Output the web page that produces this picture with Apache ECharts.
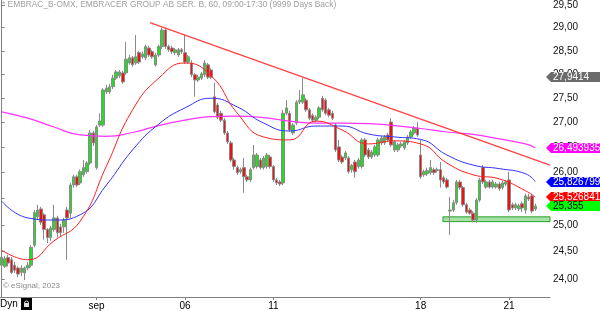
<!DOCTYPE html>
<html><head><meta charset="utf-8">
<script src="https://cdn.jsdelivr.net/npm/echarts@6/dist/echarts.min.js"></script>
<style>html,body{margin:0;padding:0;background:#fff}#c{width:600px;height:311px}</style>
</head><body><div id="c"></div>
<script>
// OHLC candles [open, close, low, high], hourly bars (9 per day)
const candles = [
[24.25,24.39,24.20,24.44],[24.23,24.37,24.20,24.42],[24.39,24.29,24.23,24.44],[24.35,24.12,24.09,24.40],
[24.25,24.16,24.11,24.31],[24.20,24.09,24.03,24.23],[24.12,24.20,24.05,24.25],[24.11,24.20,23.98,24.23],
[24.20,24.25,24.16,24.31],[24.25,24.58,24.21,24.62],[24.62,25.23,24.58,25.28],[25.15,25.28,25.09,25.38],
[25.30,25.05,25.00,25.34],[25.19,24.91,24.72,25.22],[24.91,24.76,24.66,24.94],[24.76,24.94,24.70,24.98],
[24.91,25.13,24.87,25.38],[25.13,24.85,24.76,25.17],[24.96,24.85,24.79,25.02],[24.96,25.09,24.85,25.13],
[25.28,25.13,24.35,25.34],[25.22,25.76,25.13,25.80],[25.76,25.92,25.71,25.96],[25.92,25.76,25.72,25.96],
[25.80,26.02,25.76,26.06],[25.96,26.10,25.92,26.25],[26.02,26.19,25.98,26.23],[26.19,26.79,26.15,26.85],
[26.79,26.59,26.53,26.83],[26.10,26.91,26.06,26.95],[26.95,27.03,26.91,27.19],[26.95,27.67,26.91,27.71],
[27.63,27.71,27.59,27.78],[27.63,27.74,27.59,27.80],[27.74,27.92,27.69,27.99],[27.92,28.05,27.88,28.09],
[27.97,28.05,27.92,28.09],[28.03,27.84,27.80,28.07],[28.03,28.32,27.99,28.69],[28.24,28.35,28.20,28.41],
[28.35,28.20,28.16,28.39],[28.24,28.37,28.20,28.84],[28.46,28.26,28.22,28.50],[28.37,28.43,28.33,28.48],
[28.35,28.59,28.30,28.63],[28.56,28.41,28.37,28.61],[28.48,28.37,28.33,28.52],[28.20,28.41,28.16,28.46],
[28.41,28.59,28.37,28.63],[28.59,28.95,28.54,29.00],[28.95,28.59,28.54,29.00],[28.59,28.52,28.48,28.63],
[28.56,28.48,28.43,28.61],[28.46,28.52,28.41,28.56],[28.41,28.52,28.37,28.56],[28.52,28.48,28.43,28.56],
[28.46,28.26,28.22,28.84],[28.26,28.37,28.22,28.41],[28.24,27.99,27.94,28.30],[27.99,27.88,27.53,28.03],
[27.88,27.94,27.84,27.99],[27.92,28.01,27.88,28.05],[27.99,28.24,27.94,28.30],[28.20,27.94,27.90,28.24],
[28.09,27.94,27.90,28.13],[27.53,27.22,27.19,27.82],[27.36,27.11,27.07,27.40],[27.19,27.05,27.01,27.24],
[27.05,26.79,26.75,27.09],[26.79,26.61,26.57,26.83],[26.59,26.25,26.21,26.63],[26.25,26.12,26.06,26.29],
[26.10,26.00,25.96,26.14],[26.02,26.06,25.98,26.10],[26.10,25.92,25.61,26.29],[25.92,25.86,25.82,25.96],
[25.86,26.06,25.82,26.10],[26.10,26.35,26.06,26.55],[26.12,26.35,26.08,26.39],[26.25,26.10,26.06,26.29],
[26.10,26.29,26.06,26.33],[26.12,26.35,26.08,26.39],[26.31,26.12,26.08,26.35],[26.12,25.86,25.82,26.15],
[25.86,25.80,25.76,25.90],[25.82,25.78,25.74,25.86],[25.80,27.19,25.76,27.26],[27.19,27.30,27.15,27.46],
[27.19,26.85,26.81,27.24],[26.79,26.95,26.75,26.99],[26.99,27.42,26.95,27.46],[27.42,27.46,27.38,27.67],
[27.42,27.57,27.38,27.92],[27.46,27.26,27.22,27.50],[27.26,27.09,27.05,27.30],[27.15,27.05,27.01,27.19],
[27.05,27.11,27.01,27.15],[27.11,27.30,27.07,27.34],[27.50,27.26,27.22,27.55],[27.46,27.19,27.15,27.50],
[27.26,27.15,27.11,27.30],[27.19,27.09,27.05,27.24],[26.95,26.45,26.41,26.99],[26.51,26.25,26.21,26.65],
[26.31,26.21,26.17,26.35],[26.29,26.39,26.25,26.43],[26.29,26.02,25.98,26.33],[26.06,26.14,26.00,26.17],
[26.21,26.02,25.90,26.25],[26.12,26.25,26.08,26.29],[26.12,26.65,26.08,26.69],[26.65,26.35,26.31,26.69],
[26.45,26.31,26.27,26.49],[26.31,26.41,26.27,26.45],[26.35,26.51,26.31,26.55],[26.35,26.65,26.31,26.69],
[26.59,26.69,26.55,26.73],[26.59,26.71,26.55,26.75],[26.75,26.65,26.61,26.79],[27.01,26.55,26.51,27.09],
[26.45,26.61,26.41,26.65],[26.45,26.55,26.41,26.59],[26.53,26.57,26.49,26.61],[26.49,26.61,26.45,26.65],
[26.59,26.71,26.55,26.75],[26.71,26.81,26.67,26.85],[26.79,26.89,26.75,26.93],[26.89,26.75,26.71,27.01],
[26.35,25.92,25.88,26.65],[25.96,26.02,25.92,26.06],[25.98,26.04,25.94,26.10],[26.00,26.10,25.96,26.25],
[26.06,26.00,25.96,26.10],[26.04,26.06,26.00,26.10],[26.06,25.86,25.71,26.21],[25.90,25.82,25.78,25.94],
[25.86,25.72,25.69,25.90],[25.26,25.28,24.81,25.53],[25.28,25.42,25.24,25.47],[25.42,25.82,25.38,25.86],
[25.82,25.71,25.67,25.86],[25.71,25.38,25.34,25.74],[25.38,25.24,25.21,25.42],[25.28,25.22,25.19,25.32],
[25.22,25.09,25.05,25.26],[25.09,25.47,25.04,25.51],[25.47,25.86,25.43,25.90],[26.10,25.82,25.78,26.15],
[25.72,25.82,25.69,25.86],[25.82,25.72,25.69,25.86],[25.72,25.82,25.69,25.86],[25.72,25.78,25.69,25.82],
[25.78,25.69,25.65,25.82],[25.71,25.80,25.67,25.84],[25.78,25.82,25.74,25.86],[25.86,25.28,25.24,26.02],
[25.38,25.32,25.28,25.42],[25.32,25.38,25.28,25.42],[25.30,25.36,25.26,25.40],[25.40,25.32,25.24,25.44],
[25.28,25.55,25.21,25.59],[25.53,25.49,25.45,25.59],[25.55,25.26,25.22,25.59],[25.30,25.355,25.26,25.40]
];
const slotCount = 168;               // bar slots incl. right margin
const xTickIdx = [29, 56, 83, 128, 155];
const xTickText = ['sep', '06', '11', '18', '21'];
const yTickVals = [24.0,24.5,25.0,25.5,26.0,26.5,27.0,27.5,28.0,28.5,29.0,29.5];
const yMin = 23.677, yMax = 29.61;

// moving averages, read at sample bar indices
const maIdx = [0,8,16,24,32,40,48,56,64,72,80,88,96,104,112,120,128,136,144,152,160,163];
const maMagenta = [27.22,27.09,26.91,26.75,26.72,26.80,26.94,27.05,27.12,27.13,27.10,27.03,26.99,26.99,26.98,26.94,26.88,26.81,26.76,26.67,26.57,26.494];
const maBlue = [25.45,25.13,25.09,25.19,25.76,26.45,26.97,27.30,27.50,27.32,26.99,26.83,26.93,26.93,26.77,26.71,26.66,26.35,26.15,26.08,25.98,25.827];
const maRed = [24.53,24.35,24.70,25.07,26.13,27.26,27.92,28.24,27.97,27.19,26.71,26.65,27.03,26.85,26.57,26.63,26.57,26.19,25.96,25.88,25.65,25.527];

const trendX = [45.3, 167.5];
const trendP = [29.11, 26.15];
const bandX = [134.8, 167.5];
const bandP = [25.15, 25.06];

const lastVals = [27.9414, 26.493935, 25.826799, 25.526841, 25.355];
const lastText = ['27,9414', '26,493935', '25,826799', '25,526841', '25,355'];
const lastBg = ['#6b6b6b', '#ff00ff', '#0000ff', '#ff0000', '#00ff00'];
const lastFg = ['#ffffff', '#ffffff', '#ffffff', '#ffffff', '#000000'];

const L = Math.log;
const cats = Array.from({length: slotCount}, (_, i) => String(i));
const font = '"Liberation Sans", Arial, sans-serif';
const lineData = arr => maIdx.map((x, k) => [x, L(arr[k])]);

const chart = echarts.init(document.getElementById('c'), null, {renderer: 'canvas'});
chart.setOption({
  animation: false,
  backgroundColor: '#ffffff',
  grid: {left: 0, right: 50, top: 0, bottom: 14, containLabel: false},
  xAxis: [{
    type: 'category', data: cats, boundaryGap: true,
    axisLine: {show: true, lineStyle: {color: '#808080', width: 1}},
    axisTick: {show: true, alignWithLabel: true, length: 3, lineStyle: {color: '#808080'},
      interval: i => xTickIdx.includes(i)},
    axisLabel: {show: true, interval: i => xTickIdx.includes(i),
      formatter: (v, i) => xTickText[xTickIdx.indexOf(i)] || '',
      fontSize: 10, color: '#000', fontFamily: font, margin: 4},
    splitLine: {show: false}
  }, {
    type: 'value', min: -0.5, max: slotCount - 0.5, show: false
  }],
  yAxis: [{
    type: 'value', position: 'right', min: L(yMin), max: L(yMax), scale: true,
    axisLine: {show: true, lineStyle: {color: '#808080', width: 1}},
    axisTick: {show: true, length: 3, lineStyle: {color: '#808080'}, customValues: yTickVals.map(L)},
    axisLabel: {show: true, customValues: yTickVals.map(L), margin: 3,
      formatter: v => Math.exp(v).toFixed(2).replace('.', ','),
      fontSize: 10, color: '#111', fontFamily: font},
    splitLine: {show: false}
  }],
  series: [
    {
      type: 'candlestick', xAxisIndex: 0, yAxisIndex: 0,
      data: candles.map(d => d.map(L)),
      barWidth: 3,
      itemStyle: {color: '#1ee01e', color0: '#f01010', borderColor: '#8a8a8a', borderColor0: '#8a8a8a', borderWidth: 1},
      z: 2
    },
    {type: 'line', xAxisIndex: 1, yAxisIndex: 0, data: lineData(maMagenta), smooth: 0.5, showSymbol: false,
      lineStyle: {color: '#ff33ff', width: 1.2}, z: 3},
    {type: 'line', xAxisIndex: 1, yAxisIndex: 0, data: lineData(maBlue), smooth: 0.5, showSymbol: false,
      lineStyle: {color: '#3333ff', width: 1}, z: 3},
    {type: 'line', xAxisIndex: 1, yAxisIndex: 0, data: lineData(maRed), smooth: 0.5, showSymbol: false,
      lineStyle: {color: '#ff2020', width: 1}, z: 3},
    {type: 'line', xAxisIndex: 1, yAxisIndex: 0, data: trendX.map((x, k) => [x, L(trendP[k])]),
      showSymbol: false, lineStyle: {color: '#ff4040', width: 1.2}, z: 4,
      markArea: {silent: true, itemStyle: {color: 'rgba(60,190,60,0.45)', borderColor: '#2aa02a', borderWidth: 1},
        data: [[{coord: [bandX[0], L(bandP[0])]}, {coord: [bandX[1], L(bandP[1])]}]]}
    }
  ]
});

const g = [
  {type: 'text', x: 2, y: 1, style: {text: '* EMBRAC_B-OMX, EMBRACER GROUP AB SER. B, 60, 09:00-17:30 (9999 Days Back)', fill: '#a0a0a0', font: '8.4px ' + font}, z: 50},
  {type: 'text', x: 3, y: 282, style: {text: '\u00a9 eSignal, 2023', fill: '#8a8a8a', font: '8px ' + font}, z: 50},
  {type: 'text', x: 0, y: 299, style: {text: 'Dyn', fill: '#000', font: '10px ' + font}, z: 50},
  {type: 'rect', shape: {x: 21, y: 298, width: 11, height: 12}, style: {fill: '#000'}, z: 50},
  {type: 'rect', shape: {x: 24, y: 303, width: 5, height: 4}, style: {fill: '#ddd'}, z: 51},
  {type: 'arc', shape: {cx: 26.5, cy: 303, r: 2, startAngle: Math.PI, endAngle: 2 * Math.PI}, style: {stroke: '#ddd', fill: null, lineWidth: 1}, z: 51}
];
lastVals.forEach((v, k) => {
  const y = Math.round(chart.convertToPixel({yAxisIndex: 0}, L(v)));
  g.push({type: 'polygon', shape: {points: [[546, y], [551, y - 5], [600, y - 5], [600, y + 5], [551, y + 5]]}, style: {fill: lastBg[k]}, z: 60 + k});
  g.push({type: 'text', x: 553, y: y, style: {text: lastText[k], fill: lastFg[k], font: '10px ' + font, verticalAlign: 'middle'}, z: 60 + k});
});
chart.setOption({graphic: g});
</script>
</body></html>
